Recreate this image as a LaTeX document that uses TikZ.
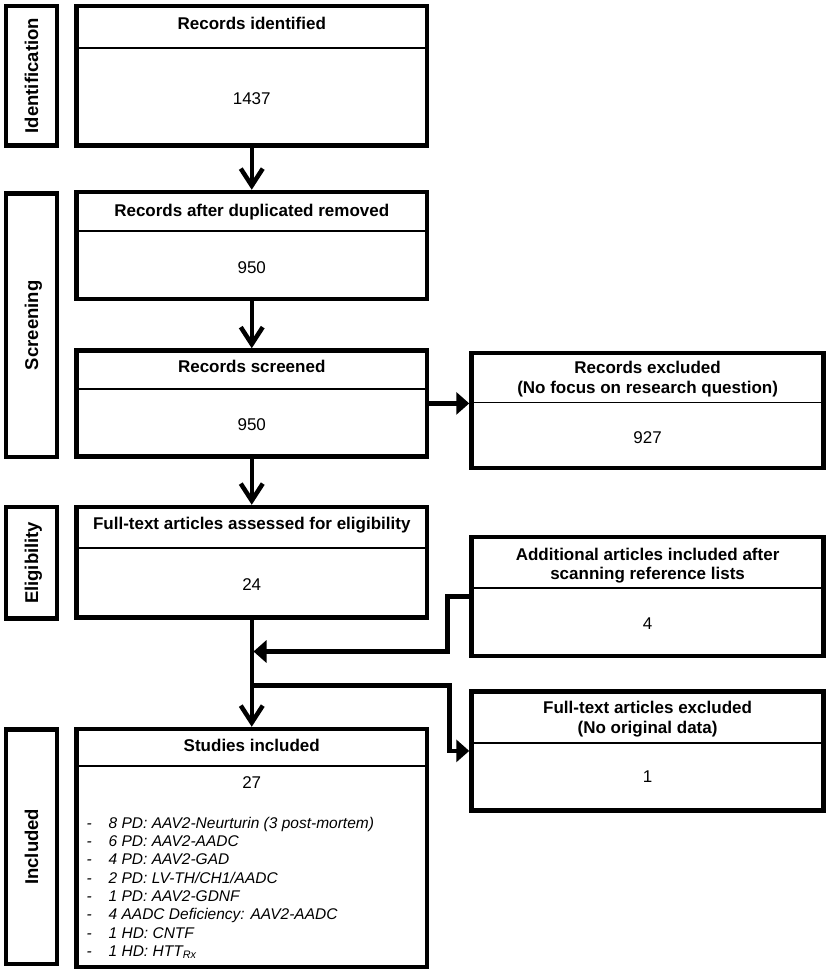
\documentclass[tikz,border=0pt]{standalone}
\usepackage{fontspec}
\setmainfont{Liberation Sans}
\usetikzlibrary{arrows.meta}
\begin{document}
\begin{tikzpicture}[x=1pt,y=-1pt,
  box/.style={draw, line width=4.5pt, inner sep=0pt},
  divline/.style={line width=1.3pt},
  barbarrow/.style={line width=4.5pt, -{Straight Barb[length=17pt,width=22pt]}},
  trarrow/.style={line width=4.5pt, -{Triangle[length=13pt,width=22pt]}},
  plainline/.style={line width=4.5pt},
  ttl/.style={font=\fontsize{17}{20}\selectfont\bfseries, inner sep=0pt, anchor=base},
  num/.style={font=\fontsize{17}{20}\selectfont, inner sep=0pt, anchor=base},
  lab/.style={font=\fontsize{18.5}{22}\selectfont\bfseries, rotate=90, inner sep=0pt, anchor=base},
  itm/.style={font=\fontsize{15.5}{18}\selectfont\itshape, inner sep=0pt, anchor=base west}]
\useasboundingbox (0,0) rectangle (829,972);
\fill[white] (0,0) rectangle (829,972);

% stage labels
\node[box, minimum width=51pt, minimum height=139.3pt] (L1) at (31.5,75.65) {};
\node[box, minimum width=51pt, minimum height=263.3pt] (L2) at (31.5,325.35) {};
\node[box, minimum width=51pt, minimum height=111.7pt] (L3) at (31.5,562.85) {};
\node[box, minimum width=51pt, minimum height=234.5pt] (L4) at (31.5,846.75) {};
\node[lab] (l1t) at (38,75.65) {Identification};
\node[lab] (l2t) at (38,325.35) {Screening};
\node[lab] (l3t) at (38,562.85) {Eligibility};
\node[lab] (l4t) at (38,846.75) {Included};

% main boxes
\node[box, minimum width=350.5pt, minimum height=139.3pt] (b1) at (251.75,75.65) {};
\node[box, minimum width=350.5pt, minimum height=107pt] (b2) at (251.75,245.5) {};
\node[box, minimum width=350.5pt, minimum height=105.8pt] (b3) at (251.75,403.4) {};
\node[box, minimum width=350.5pt, minimum height=110.5pt] (b4) at (251.75,562.25) {};
\node[box, minimum width=350.5pt, minimum height=238pt] (b5) at (251.75,848) {};

% right boxes
\node[box, minimum width=352.2pt, minimum height=115pt] (e1) at (647.6,410.5) {};
\node[box, minimum width=352.2pt, minimum height=119pt] (ad) at (647.6,596.5) {};
\node[box, minimum width=352.2pt, minimum height=119.2pt] (e2) at (647.6,750.9) {};

% dividers
\draw[divline] (b1.west |- 0,48) -- (b1.east |- 0,48);
\draw[divline] (b2.west |- 0,231) -- (b2.east |- 0,231);
\draw[divline] (b3.west |- 0,389) -- (b3.east |- 0,389);
\draw[divline] (b4.west |- 0,548) -- (b4.east |- 0,548);
\draw[divline] (b5.west |- 0,766) -- (b5.east |- 0,766);
\draw[divline] (e1.west |- 0,402.5) -- (e1.east |- 0,402.5);
\draw[divline] (ad.west |- 0,588) -- (ad.east |- 0,588);
\draw[divline] (e2.west |- 0,743) -- (e2.east |- 0,743);

% texts main
\node[ttl] (t1) at (251.75,29.5) {Records identified};
\node[num] (n1) at (251.75,104) {1437};
\node[ttl] (t2) at (251.75,216) {Records after duplicated removed};
\node[num] (n2) at (251.75,273) {950};
\node[ttl] (t3) at (251.75,372.7) {Records screened};
\node[num] (n3) at (251.75,430) {950};
\node[ttl] (t4) at (251.75,529.3) {Full-text articles assessed for eligibility};
\node[num] (n4) at (251.75,590) {24};
\node[ttl] (t5) at (251.75,751.7) {Studies included};
\node[num] (n5) at (251.75,788.3) {27};

% list
\foreach \y/\txt [count=\i] in {828.3/{8 PD: AAV2-Neurturin (3 post-mortem)},
  846.6/{6 PD: AAV2-AADC},
  864.9/{4 PD: AAV2-GAD},
  883.2/{2 PD: LV-TH/CH1/AADC},
  901.5/{1 PD: AAV2-GDNF},
  919.8/{4 AADC Deficiency: AAV2-AADC},
  938.1/{1 HD: CNTF},
  956.4/{1 HD: HTT\textsubscript{Rx}}}{
  \node[itm] (d\i) at (86.5,\y) {-};
  \node[itm] (s\i) at (108.5,\y) {\txt};
}

% texts right
\node[ttl] (t6a) at (647.6,373.3) {Records excluded};
\node[ttl] (t6b) at (647.6,393.3) {(No focus on research question)};
\node[num] (n6) at (647.6,443) {927};
\node[ttl] (t7a) at (647.6,560) {Additional articles included after};
\node[ttl] (t7b) at (647.6,579.3) {scanning reference lists};
\node[num] (n7) at (647.6,629) {4};
\node[ttl] (t8a) at (647.6,713.3) {Full-text articles excluded};
\node[ttl] (t8b) at (647.6,733.5) {(No original data)};
\node[num] (n8) at (647.6,782.7) {1};

% connectors
\draw[barbarrow] (b1.south) -- (b2.north);
\draw[barbarrow] (b2.south) -- (b3.north);
\draw[barbarrow] (b3.south) -- (b4.north);
\draw[barbarrow] (b4.south) -- (b5.north);
\draw[trarrow] (b3.east) -- (b3.east -| e1.west);
\coordinate (ja) at (253.5,651.5);
\coordinate (jb) at (251.75,685.5);
\draw[trarrow] (ad.west) -- ++(-22,0) |- (ja);
\draw[trarrow] (jb) -- ++(197.75,0) |- (e2.west);
\end{tikzpicture}
\end{document}
